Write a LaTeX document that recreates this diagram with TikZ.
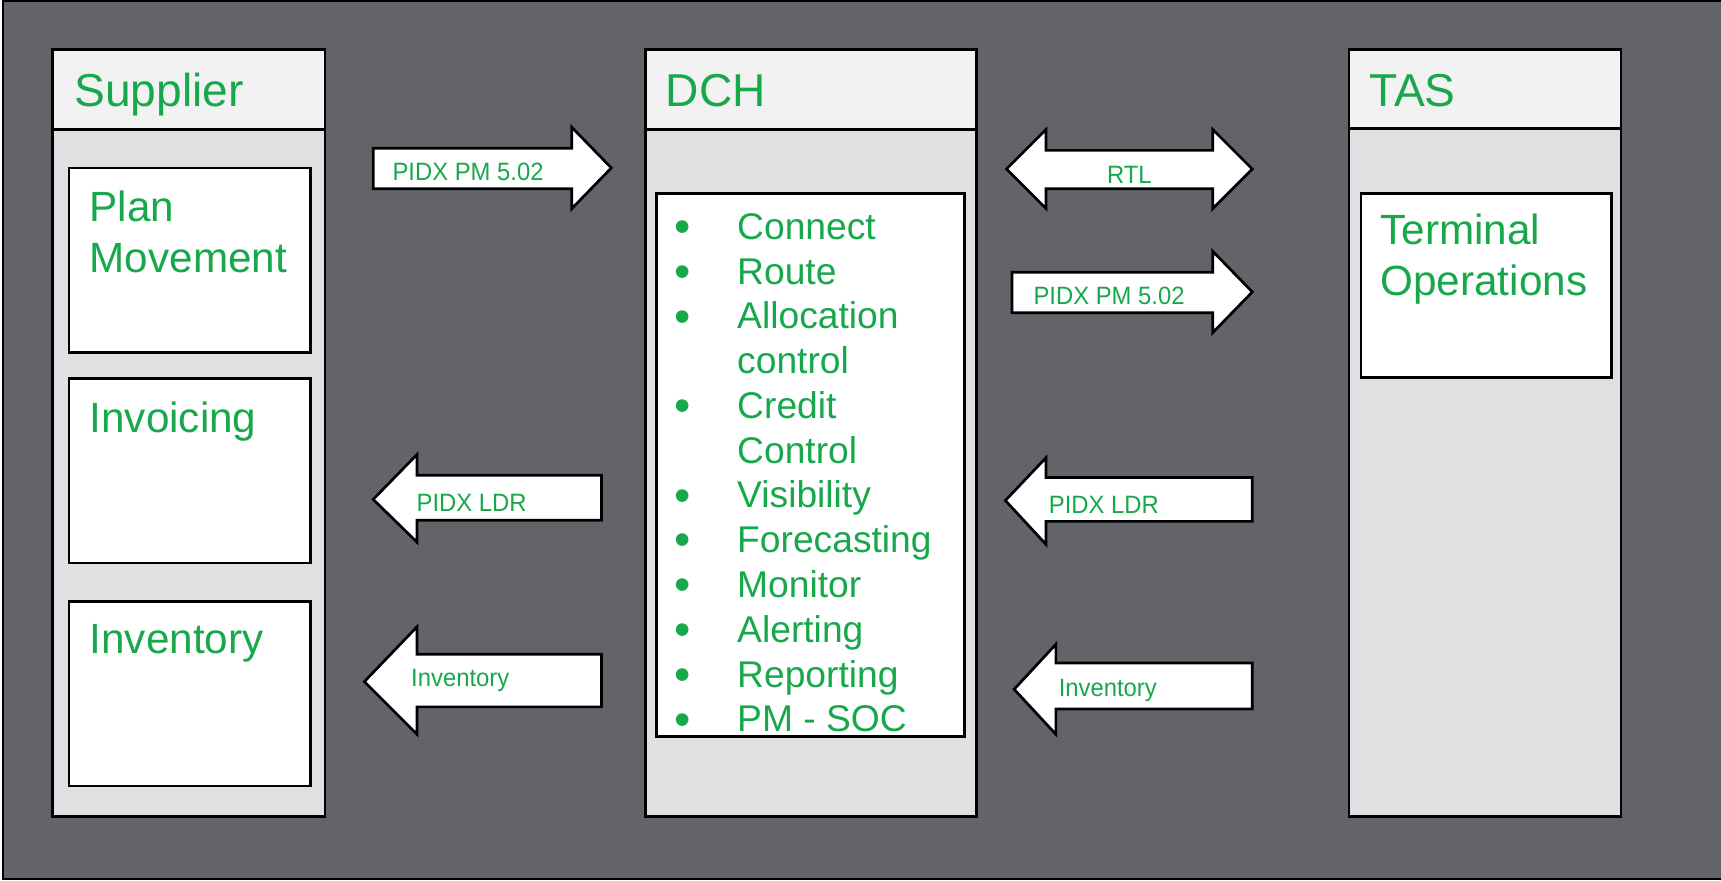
\documentclass[tikz,border=0pt]{standalone}
\usepackage{fontspec}
\setmainfont{Liberation Sans}
\usetikzlibrary{positioning}
\definecolor{BackGray}{RGB}{99,100,105}
\definecolor{HeadGray}{RGB}{242,242,242}
\definecolor{BodyGray}{RGB}{223,224,226}
\definecolor{TextGreen}{RGB}{24,168,76}

\begin{document}
\begin{tikzpicture}[x=0.01cm, y=-0.01cm,
  colhead/.style={draw=black, line width=0.7pt, fill=HeadGray},
  colbody/.style={draw=black, line width=0.7pt, fill=BodyGray},
  subbox/.style={draw=black, line width=0.7pt, fill=white},
  blockarrow/.style={draw=black, line width=0.7pt, fill=white, line join=miter},
  headtext/.style={anchor=base west, inner sep=0pt, text=TextGreen, font=\fontsize{11.95}{14}\selectfont},
  boxtext/.style={anchor=north west, inner sep=0pt, align=left, text=TextGreen, font=\fontsize{10.95}{13.3}\selectfont},
  listtext/.style={anchor=base west, inner sep=0pt, text=TextGreen, font=\fontsize{9.64}{11.6}\selectfont},
  arrowtext/.style={anchor=west, inner sep=0pt, text=TextGreen, xscale=0.95, font=\fontsize{6.5}{8}\selectfont}]

\useasboundingbox (0,0) rectangle (1568,802);

% background
\fill[white] (0,0) rectangle (1568,802);
\draw[fill=BackGray, line width=0.6pt] (3,1) rectangle (1572,801);

% Supplier column
\draw[colbody] (48,118) rectangle (296,744);
\draw[colhead] (48,45) rectangle (296,118);
\node[headtext] (supplier) at (67,97) {Supplier};

\draw[subbox] (63,153) rectangle (283,321);
\node[boxtext] (plan) at (81,173) {Plan\\Movement};
\draw[subbox] (63,345) rectangle (283,513);
\node[boxtext] (invoicing) at (81,365) {Invoicing};
\draw[subbox] (63,548) rectangle (283,716);
\node[boxtext] (inventory) at (81,568) {Inventory};

% DCH column
\draw[colbody] (588,118) rectangle (890,744);
\draw[colhead] (588,45) rectangle (890,118);
\node[headtext] (dch) at (606,97) {DCH};

\draw[subbox] (598,176) rectangle (879,671);
\def \yFirst {218}
\def \lineGap {40.8}
\foreach \k/\txt/\b in {0/Connect/1, 1/Route/1, 2/Allocation/1, 3/control/0,
    4/Credit/1, 5/Control/0, 6/Visibility/1, 7/Forecasting/1, 8/Monitor/1,
    9/Alerting/1, 10/Reporting/1, 11/PM - SOC/1}{
  \node[listtext] (item\k) at (671, \yFirst+\lineGap*\k) {\txt};
  \ifnum\b=1
    \node[listtext, anchor=center, scale=1.25] (dot\k) at (622, \yFirst-7+\lineGap*\k) {\textbullet};
  \fi
}

% TAS column
\draw[colbody] (1229,117) rectangle (1477,744);
\draw[colhead] (1229,45) rectangle (1477,117);
\node[headtext] (tas) at (1247,97) {TAS};

\draw[subbox] (1240,176) rectangle (1468,344);
\node[boxtext] (terminal) at (1257,194) {Terminal\\Operations};

% arrow supplier to DCH
\draw[blockarrow] (340,135) -- (521,135) -- (521,116) -- (557,153)
  -- (521,190) -- (521,172) -- (340,172) -- cycle;
\node[arrowtext] (pmA) at (357,157) {PIDX PM 5.02};

% RTL double arrow
\draw[blockarrow] (917,154) -- (953,118) -- (953,137) -- (1105,137) -- (1105,118)
  -- (1141,154) -- (1105,190) -- (1105,172) -- (953,172) -- (953,190) -- cycle;
\node[arrowtext, anchor=center] (rtl) at (1029,159) {RTL};

% arrow DCH to TAS
\draw[blockarrow] (922,248) -- (1105,248) -- (1105,229) -- (1141,266)
  -- (1105,303) -- (1105,285) -- (922,285) -- cycle;
\node[arrowtext] (pmB) at (941,270) {PIDX PM 5.02};

% arrows DCH to supplier
\draw[blockarrow] (340,455) -- (380,414) -- (380,433) -- (548,433)
  -- (548,474) -- (380,474) -- (380,494) -- cycle;
\node[arrowtext] (ldrA) at (379,458) {PIDX LDR};

\draw[blockarrow] (332,621) -- (380,571) -- (380,596) -- (548,596)
  -- (548,644) -- (380,644) -- (380,669) -- cycle;
\node[arrowtext] (invA) at (374,620) {Inventory};

% arrows TAS to DCH
\draw[blockarrow] (916,456) -- (953,417) -- (953,435) -- (1141,435)
  -- (1141,475) -- (953,475) -- (953,496) -- cycle;
\node[arrowtext] (ldrB) at (955,460) {PIDX LDR};

\draw[blockarrow] (924,628) -- (962,587) -- (962,604) -- (1141,604)
  -- (1141,646) -- (962,646) -- (962,669) -- cycle;
\node[arrowtext] (invB) at (964,629) {Inventory};

\end{tikzpicture}
\end{document}
